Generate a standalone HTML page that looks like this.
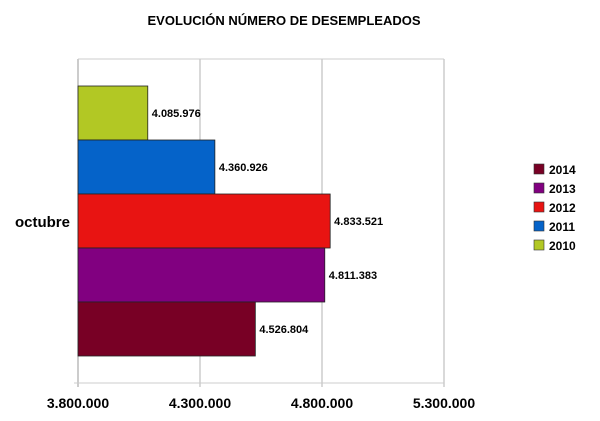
<!DOCTYPE html>
<html><head><meta charset="utf-8"><style>
body{margin:0;background:#fff;font-family:"Liberation Sans",Arial,sans-serif}
</style></head><body>
<svg id="c" width="600" height="416" xmlns="http://www.w3.org/2000/svg" font-family="Liberation Sans, Arial, sans-serif">
<text x="284" y="25" text-anchor="middle" font-size="13" font-weight="bold" fill="#000">EVOLUCIÓN NÚMERO DE DESEMPLEADOS</text>
<g id="grid"></g><g id="bars"></g><g id="legend"></g>
<text x="70" y="227" text-anchor="end" font-size="15" font-weight="bold">octubre</text>
</svg>
<script>
const categories=["octubre"];
const seriesNames=["2010","2011","2012","2013","2014"];
const seriesColors=["#b2c824","#0563c9","#e81412","#810080","#780025"];
const values=[4085976,4360926,4833521,4811383,4526804];
const valueLabels=["4.085.976","4.360.926","4.833.521","4.811.383","4.526.804"];
const ticks=[3800000,4300000,4800000,5300000];
const tickLabels=["3.800.000","4.300.000","4.800.000","5.300.000"];
const legendOrder=["2014","2013","2012","2011","2010"];
const NS="http://www.w3.org/2000/svg";
const x0=78,x1=444,yTop=59,yBot=383,xmin=3800000,xmax=5300000;
const xs=v=>x0+(v-xmin)/(xmax-xmin)*(x1-x0);
function mk(t,a,p){const e=document.createElementNS(NS,t);for(const k in a)e.setAttribute(k,a[k]);p.appendChild(e);return e;}
const g=document.getElementById("grid");
ticks.forEach((t,i)=>{
 const l=mk("line",{x1:xs(t),x2:xs(t),y1:yTop,y2:yBot+4,stroke:i==0?"#999":"#b3b3b3","stroke-width":1},g);
 
 
 const tx=mk("text",{x:xs(t),y:408,"text-anchor":"middle","font-size":"14","font-weight":"bold"},g);
 tx.textContent=tickLabels[i];
 
 
});
const tl=mk("line",{x1:x0,x2:x1,y1:yTop,y2:yTop,stroke:"#ccc"},g);


const bl=mk("line",{x1:x0-4,x2:x1,y1:yBot,y2:yBot,stroke:"#ccc"},g);


const b=document.getElementById("bars");
const band=yBot-yTop, gap=27, bh=(band-2*gap)/values.length;
values.forEach((v,i)=>{
 const y=yTop+gap+i*bh;
 const r=mk("rect",{x:x0,y:y,width:xs(v)-x0,height:bh,fill:seriesColors[i],stroke:"#222","stroke-width":0.8},b);
 
 
 const t=mk("text",{x:xs(v)+4,y:y+bh/2+4,"font-size":"11","font-weight":"bold"},b);
 t.textContent=valueLabels[i];
 
 
});
const lg=document.getElementById("legend");
legendOrder.forEach((n,i)=>{
 const idx=seriesNames.indexOf(n);
 const y=164+i*19;
 const s=mk("rect",{x:534,y:y,width:10,height:10,fill:seriesColors[idx],stroke:"#333","stroke-width":0.6},lg);
 
 
 const t=mk("text",{x:549,y:y+10,"font-size":"12","font-weight":"bold"},lg);
 t.textContent=n;
 
 
});
</script>
</body></html>
